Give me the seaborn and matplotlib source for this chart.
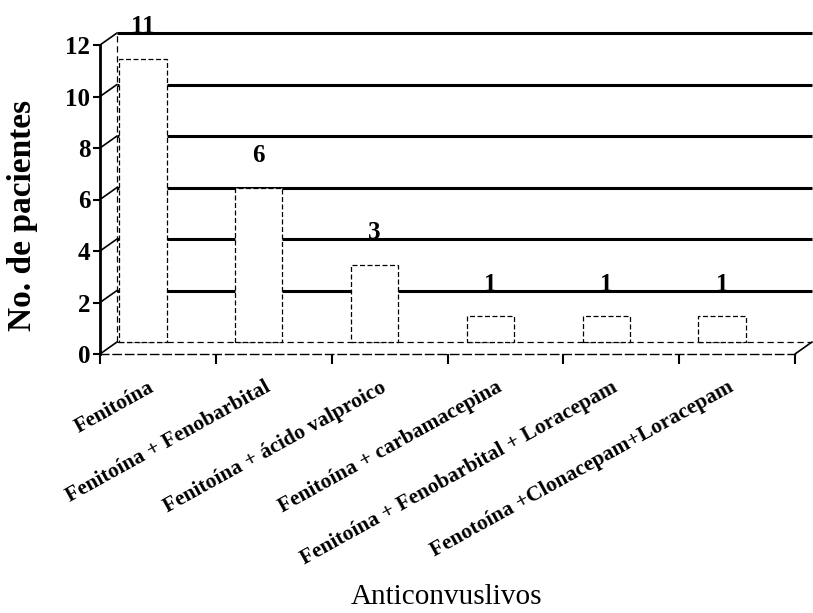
import matplotlib
matplotlib.use("Agg")
import matplotlib.pyplot as plt
from matplotlib.transforms import ScaledTranslation
import seaborn as sns
import pandas as pd

# Datos
categorias = [
    "Fenitoína",
    "Fenitoína + Fenobarbital",
    "Fenitoína + ácido valproico",
    "Fenitoína + carbamacepina",
    "Fenitoína + Fenobarbital + Loracepam",
    "Fenotoína +Clonacepam+Loracepam",
]
pacientes = [11, 6, 3, 1, 1, 1]
marcas_y = [0, 2, 4, 6, 8, 10, 12]

sns.set_theme(style="white")
plt.rcParams["font.family"] = ["Liberation Serif", "DejaVu Serif"]

W, H = 813, 613
fig = plt.figure(figsize=(W / 100, H / 100), dpi=100)
ax = fig.add_axes([100 / W, 1 - 354 / H, 695 / W, 309 / H])

df = pd.DataFrame({"Anticonvulsivo": categorias, "Pacientes": pacientes})
sns.barplot(data=df, x="Anticonvulsivo", y="Pacientes", color="white",
            saturation=1, width=0.41, edgecolor="black", linewidth=0.9,
            linestyle=(0, (4, 2)), ax=ax, zorder=3)
ax.set_xlim(-0.5, 5.5)
ax.set_ylim(0, 12)

# pseudo-3D: back wall and bars are shifted up/right in inches
pared = ax.transData + ScaledTranslation(0.17, 0.12, fig.dpi_scale_trans)
desplaz_barras = ScaledTranslation(-0.15, 0.12, fig.dpi_scale_trans)
for p in ax.patches:
    p.set_transform(ax.transData + desplaz_barras)

# back wall gridlines
for v in marcas_y[1:]:
    ax.plot([-0.5, 5.5], [v, v], transform=pared, color="black", lw=2.2,
            zorder=1, clip_on=False, solid_capstyle="butt")
# back floor and left back edge
ax.plot([-0.5, 5.5], [0, 0], transform=pared, color="black", lw=0.9,
        ls=(0, (5, 3)), zorder=1, clip_on=False)
ax.plot([-0.5, -0.5], [0, 12], transform=pared, color="black", lw=0.9,
        ls=(0, (5, 3)), zorder=1, clip_on=False)

# depth strokes from the front axis to the back wall
inv = ax.transData.inverted()
for v in marcas_y:
    bx, by = inv.transform(pared.transform((-0.5, v)))
    ax.plot([-0.5, bx], [v, by], color="black", lw=1.2, zorder=2, clip_on=False)
bx, by = inv.transform(pared.transform((5.5, 0)))
ax.plot([5.5, bx], [0, by], color="black", lw=1.2, zorder=2, clip_on=False)

# value labels above each bar
etiqueta_tr = ax.transData + ScaledTranslation(-0.15, 0.12 + 0.32, fig.dpi_scale_trans)
for i, v in enumerate(pacientes):
    ax.text(i, v, str(v), transform=etiqueta_tr, ha="center", va="center",
            fontsize=18, fontweight="bold", color="black", clip_on=False)

# axes styling
for s in ("top", "right"):
    ax.spines[s].set_visible(False)
ax.spines["left"].set_linewidth(2.0)
ax.spines["left"].set_color("black")
ax.spines["bottom"].set_linewidth(1.0)
ax.spines["bottom"].set_color("black")
ax.spines["bottom"].set_linestyle((0, (6, 3)))

ax.set_yticks(marcas_y)
ax.set_yticklabels([str(v) for v in marcas_y], fontsize=18, fontweight="bold")
ax.tick_params(axis="y", left=True, length=5, width=1.5, direction="out",
               pad=2, colors="black")

ax.set_xticks(range(len(categorias)))
ax.set_xticks([i - 0.5 for i in range(len(categorias) + 1)], minor=True)
ax.tick_params(axis="x", which="major", length=0, pad=17)
ax.tick_params(axis="x", which="minor", bottom=True, length=7, width=1.5,
               direction="out", colors="black")
ax.set_xticklabels(categorias, rotation=29, ha="right", va="top",
                   rotation_mode="anchor", fontsize=15.5, fontweight="bold",
                   color="black")
for lab in ax.get_xticklabels():
    lab.set_transform(lab.get_transform() + ScaledTranslation(-0.10, 0, fig.dpi_scale_trans))

ax.set_xlabel("")
ax.set_ylabel("")
fig.text(23 / W, 1 - 215 / H, "No. de pacientes", rotation=90, ha="center",
         va="center", fontsize=24, fontweight="bold", color="black")
fig.text(446 / W, 1 - 597 / H, "Anticonvuslivos", ha="center", va="center",
         fontsize=21, color="black")

fig.savefig("out.png", dpi=100, facecolor="white")
